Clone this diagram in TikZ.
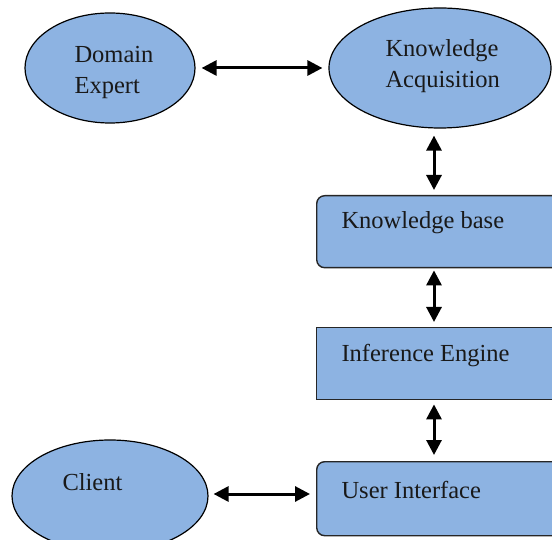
\documentclass[tikz,border=0pt]{standalone}
\usepackage{fontspec}
\setmainfont{Liberation Serif}
\usetikzlibrary{shapes.geometric,arrows.meta}
\definecolor{boxblue}{HTML}{8DB3E2}
\tikzset{
  oval/.style={ellipse, draw=black, line width=1.2pt, fill=boxblue, inner sep=0pt},
  panel/.style={rectangle, draw=black!85, line width=1.4pt, fill=boxblue,
    minimum width=246pt, minimum height=72pt, anchor=north west, inner sep=0pt},
  label/.style={font=\fontsize{24.5}{31}\selectfont, text=black!90, align=left},
  headtip/.tip={Triangle[length=15pt,width=15pt]},
  biarrow/.style={headtip-headtip, line width=3pt}
}
\begin{document}
\begin{tikzpicture}[x=1pt,y=-1pt]
\clip (0,0) rectangle (552,540);
\fill[white] (0,0) rectangle (552,540);

% ellipses
\node[oval, minimum width=170pt, minimum height=110pt] (expert) at (110,68) {};
\node[label, anchor=west] at (71,72) {Domain\\Expert};
\node[oval, minimum width=222pt, minimum height=120pt] (acq) at (440,68) {};
\node[label, anchor=west] at (382,66) {Knowledge\\Acquisition};
\node[oval, minimum width=196pt, minimum height=112pt] (client) at (110,496) {};
\node[label, anchor=west] at (59,482) {Client};

% boxes
\node[panel, rounded corners=8pt] (kb) at (316,195) {};
\node[label, anchor=west] at (338,223) {Knowledge base};
\node[panel] (ie) at (316,327) {};
\node[label, anchor=west] at (338,356) {Inference Engine};
\node[panel, rounded corners=8pt, minimum height=74pt] (ui) at (316,461) {};
\node[label, anchor=west] at (338,490) {User Interface};

% connectors
\coordinate (col) at (434,0);
\draw[biarrow, shorten <=6pt, shorten >=6pt] (expert.east) -- (acq.west);
\draw[biarrow, shorten <=7pt, shorten >=5pt] (acq.south -| col) -- (kb.north -| col);
\draw[biarrow, shorten <=2pt, shorten >=5pt] (kb.south -| col) -- (ie.north -| col);
\draw[biarrow, shorten <=4pt, shorten >=6pt] (ie.south -| col) -- (ui.north -| col);
\draw[biarrow] ([xshift=5pt]client.east |- 0,494) -- ([xshift=-6pt]ui.west |- 0,494);
\end{tikzpicture}
\end{document}
